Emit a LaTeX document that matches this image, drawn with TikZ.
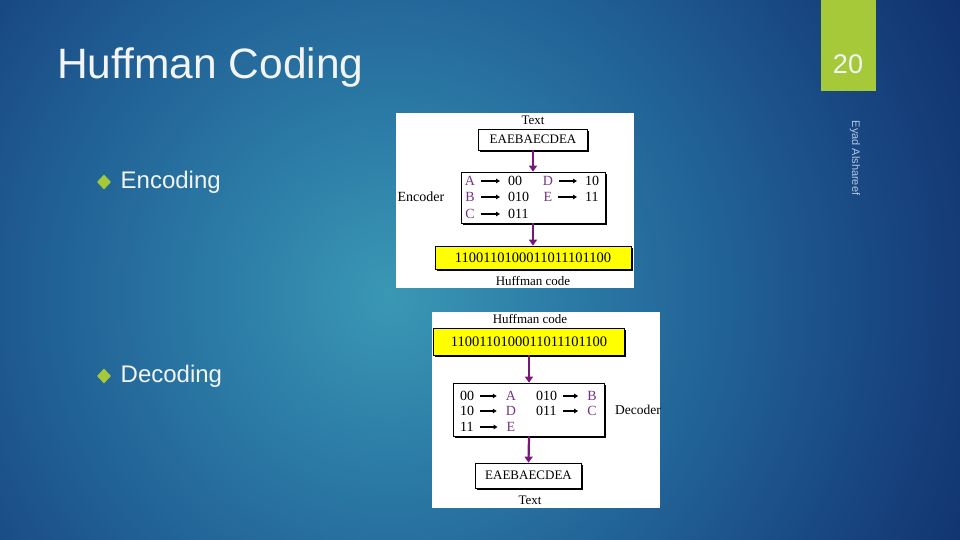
\documentclass[tikz,border=0pt]{standalone}
\usepackage{fontspec}
\setmainfont{Liberation Serif}
\newfontfamily\sansf{Liberation Sans}
\usetikzlibrary{arrows.meta,shapes.geometric,shadows}
\definecolor{bgA}{RGB}{58,152,180}
\definecolor{bgB}{RGB}{45,126,168}
\definecolor{bgC}{RGB}{33,98,150}
\definecolor{bgE}{RGB}{25,72,130}
\definecolor{bgD}{RGB}{17,50,110}
\definecolor{accent}{RGB}{166,201,58}
\definecolor{authc}{RGB}{178,198,228}
\definecolor{titlec}{RGB}{242,244,246}
\definecolor{arrowp}{RGB}{122,22,122}
\definecolor{letp}{RGB}{118,52,132}
\definecolor{hyellow}{RGB}{255,255,0}
\pgfdeclareradialshading{slideglow}{\pgfpoint{0bp}{0bp}}{color(0bp)=(bgA); color(6bp)=(bgB); color(13bp)=(bgC); color(19bp)=(bgE); color(25bp)=(bgD); color(50bp)=(bgD)}
\tikzset{
  lbl/.style={inner sep=0pt, font=\fontsize{13}{14}\selectfont},
  boxed/.style={draw=black, line width=0.7pt, inner sep=0pt,
     drop shadow={shadow xshift=1.8pt, shadow yshift=-1.8pt, fill=black, opacity=1}},
  tcell/.style={inner sep=0pt, text height=9.5pt, text depth=0pt, font=\fontsize{14}{15}\selectfont},
  tlet/.style={tcell, text=letp},
  parrow/.style={draw=arrowp, line width=2.2pt, -{Triangle[length=6pt,width=8pt]}},
  tarrow/.style={draw=black, line width=1.1pt, -{Triangle[length=4pt,width=4.5pt]}},
  bullet/.style={diamond, fill=accent, inner sep=0pt, minimum width=14pt, minimum height=15pt},
  btext/.style={inner sep=0pt, anchor=base west, text=titlec, font=\sansf\fontsize{24}{28}\selectfont},
  panel/.style={fill=white, draw=none}
}
\begin{document}
\begin{tikzpicture}[x=1pt,y=-1pt]
\useasboundingbox (0,0) rectangle (960,540);
% background
\begin{scope}
\clip (0,0) rectangle (960,540);
\fill[bgD] (0,0) rectangle (960,540);
\shade[shading=slideglow] (390,295) circle (640);
\end{scope}
% page number tab
\fill[accent] (821,0) rectangle (876,91);
\node[inner sep=0pt, text=titlec, font=\sansf\fontsize{27}{30}\selectfont] (pnum) at (848,64) {20};
\node[rotate=-90, inner sep=0pt, text=authc, font=\sansf\fontsize{11}{12}\selectfont] (auth) at (855,158) {Eyad Alshareef};
% title
\node[inner sep=0pt, anchor=base west, text=titlec, font=\sansf\fontsize{42.5}{48}\selectfont] (title) at (57,79) {Huffman Coding};
% bullets
\node[bullet] (b1) at (104,182) {};
\node[btext] (enc) at (120.5,188) {Encoding};
\node[bullet] (b2) at (104,376) {};
\node[btext] (dec) at (120.5,382) {Decoding};

% ===== Encoder figure =====
\fill[panel] (396,113) rectangle (634,288);
\node[lbl] (etext) at (533,120) {Text};
\node[boxed, fill=white, minimum width=109pt, minimum height=21pt, font=\fontsize{13}{14}\selectfont] (etb) at (533,139.5) {EAEBAECDEA};
\node[boxed, fill=white, minimum width=144pt, minimum height=51pt] (etab) at (533,197.5) {};
\node[boxed, fill=hyellow, minimum width=196pt, minimum height=23pt, font=\fontsize{14.5}{16}\selectfont] (ey) at (533,257.5) {1100110100011011101100};
\node[lbl] (ehc) at (533,280.5) {Huffman code};
\node[lbl, font=\fontsize{14}{15}\selectfont] (encl) at (421,197) {Encoder};
\draw[parrow] (etb.south) -- (etab.north);
\draw[parrow] (etab.south) -- (ey.north);
% table rows
\node[tlet] (eA) at (470,181) {A};
\node[tcell, anchor=west] (eA2) at (508,181) {00};
\node[tlet] (eB) at (470,197) {B};
\node[tcell, anchor=west] (eB2) at (508,197) {010};
\node[tlet] (eC) at (470,214) {C};
\node[tcell, anchor=west] (eC2) at (508,214) {011};
\node[tlet] (eD) at (548,181) {D};
\node[tcell, anchor=west] (eD2) at (585,181) {10};
\node[tlet] (eE) at (548,197) {E};
\node[tcell, anchor=west] (eE2) at (585,197) {11};
\foreach \a/\b in {eA/eA2,eB/eB2,eC/eC2,eD/eD2,eE/eE2}
  \draw[tarrow, shorten <=6pt, shorten >=8pt] (\a.east) -- (\b.west);

% ===== Decoder figure =====
\fill[panel] (432,312) rectangle (660,508);
\node[lbl] (dhc) at (530,319) {Huffman code};
\node[boxed, fill=hyellow, minimum width=191pt, minimum height=27pt, font=\fontsize{14.5}{16}\selectfont] (dy) at (529,341.5) {1100110100011011101100};
\node[boxed, fill=white, minimum width=151pt, minimum height=53pt] (dtab) at (529,409.5) {};
\node[boxed, fill=white, minimum width=106pt, minimum height=25pt, font=\fontsize{13}{14}\selectfont] (dtb) at (528.5,475.5) {EAEBAECDEA};
\node[lbl] (dtext) at (530,500) {Text};
\node[lbl, anchor=west, font=\fontsize{13.5}{15}\selectfont] (decl) at (615,410) {Decoder};
\draw[parrow] (dy.south) -- (dtab.north);
\draw[parrow] (dtab.south) -- (dtb.north);
% table rows
\node[tcell, anchor=west] (d00) at (460,396) {00};
\node[tlet] (dA) at (511,396) {A};
\node[tcell, anchor=west] (d10) at (460,411) {10};
\node[tlet] (dD) at (511,411) {D};
\node[tcell, anchor=west] (d11) at (460,427) {11};
\node[tlet] (dE) at (511,427) {E};
\node[tcell, anchor=west] (d010) at (536,396) {010};
\node[tlet] (dB) at (592,396) {B};
\node[tcell, anchor=west] (d011) at (536,411) {011};
\node[tlet] (dC) at (592,411) {C};
\foreach \a/\b in {d00/dA,d10/dD,d11/dE,d010/dB,d011/dC}
  \draw[tarrow, shorten <=6pt, shorten >=9pt] (\a.east) -- (\b.west);
\end{tikzpicture}
\end{document}
